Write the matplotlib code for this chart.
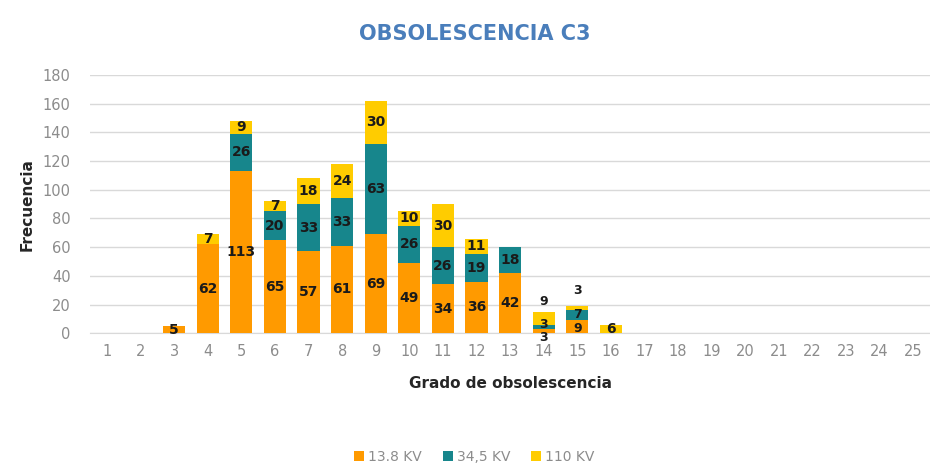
import matplotlib.pyplot as plt
import numpy as np

# datos
grados = list(range(1, 26))
kv138 = [0, 0, 5, 62, 113, 65, 57, 61, 69, 49, 34, 36, 42, 3, 9, 0] + [0] * 9
kv345 = [0, 0, 0, 0, 26, 20, 33, 33, 63, 26, 26, 19, 18, 3, 7, 0] + [0] * 9
kv110 = [0, 0, 0, 7, 9, 7, 18, 24, 30, 10, 30, 11, 0, 9, 3, 6] + [0] * 9
series = ['13.8 KV', '34,5 KV', '110 KV']
colores = ['#FF9A00', '#17868C', '#FFCC00']

fig = plt.figure(figsize=(9.3, 4.66), dpi=100)
ax = fig.add_axes([0.097, 0.285, 0.903, 0.554])

x = np.array(grados)
w = 0.66
ax.bar(x, kv138, w, color=colores[0], label=series[0], zorder=3)
ax.bar(x, kv345, w, bottom=kv138, color=colores[1], label=series[1], zorder=3)
base3 = np.array(kv138) + np.array(kv345)
ax.bar(x, kv110, w, bottom=base3, color=colores[2], label=series[2], zorder=3)

# etiquetas de datos (las barras chicas de 14 y 15 se acomodan a mano)
for i in range(len(x)):
    vals = [kv138[i], kv345[i], kv110[i]]
    fondo = 0
    for j, v in enumerate(vals):
        if v > 0:
            y = fondo + v / 2
            fs = 10
            if x[i] == 14:
                fs = 9
                y = [-3, 6, 22][j]
            elif x[i] == 15:
                fs = 9
                y = [3, 13, 30][j]
            ax.text(x[i], y, str(v), ha='center', va='center', fontsize=fs,
                    fontweight='bold', color='#1a1a1a', zorder=4, clip_on=False)
        fondo += v

ax.set_xlim(0.5, 25.5)
ax.set_ylim(0, 180)
ax.set_yticks(range(0, 181, 20))
ax.set_xticks(x)
ax.yaxis.grid(True, color='#d9d9d9', linewidth=1, zorder=0)
for s in ['top', 'right', 'left']:
    ax.spines[s].set_visible(False)
ax.spines['bottom'].set_color('#d9d9d9')
ax.tick_params(axis='both', length=0, colors='#8c8c8c', labelsize=10.5)
ax.tick_params(axis='x', pad=8)
ax.tick_params(axis='y', pad=14)

ax.set_ylabel('Frecuencia', fontsize=11, fontweight='bold', color='#262626', labelpad=6)
ax.set_xlabel('Grado de obsolescencia', fontsize=11, fontweight='bold', color='#262626', labelpad=12)
fig.text(0.51, 0.928, 'OBSOLESCENCIA C3', ha='center', va='center', fontsize=15,
         fontweight='bold', color='#4A7EBB')

fig.legend(loc='center', bbox_to_anchor=(0.51, 0.02), ncol=3, frameon=False,
           fontsize=10, handlelength=0.7, handleheight=0.7, columnspacing=1.5,
           handletextpad=0.3, labelcolor='#8c8c8c')

plt.savefig('out.png', dpi=100)
